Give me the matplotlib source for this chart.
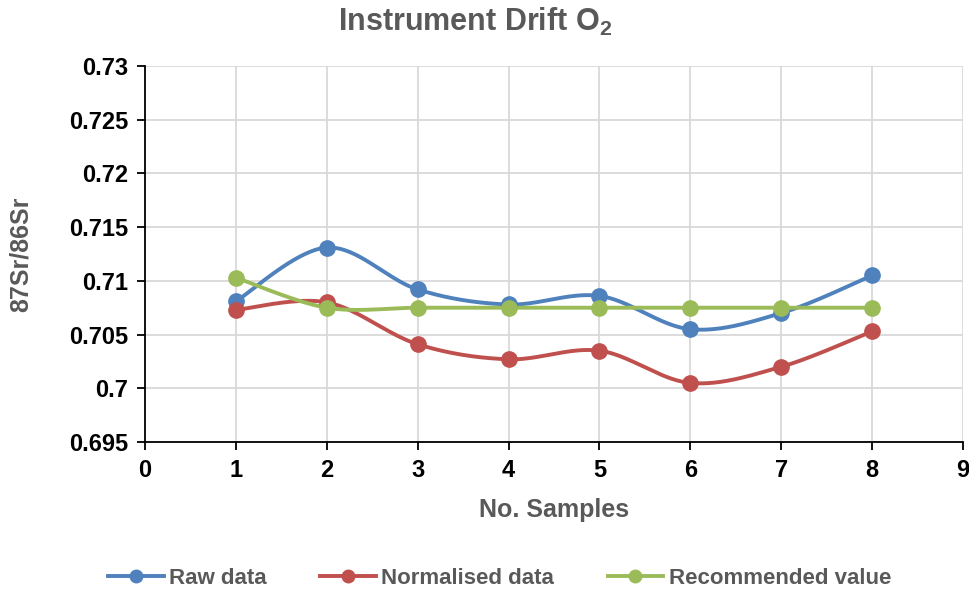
import numpy as np
import matplotlib
matplotlib.use("Agg")
import matplotlib.pyplot as plt

plt.rcParams['font.family'] = ['Liberation Sans', 'DejaVu Sans']
plt.rcParams['mathtext.fontset'] = 'custom'
plt.rcParams['mathtext.rm'] = 'Liberation Sans'
plt.rcParams['mathtext.bf'] = 'Liberation Sans:bold'

samples = [1, 2, 3, 4, 5, 6, 7, 8]
raw_data = [0.7081, 0.7131, 0.7092, 0.7078, 0.7086, 0.7055, 0.7070, 0.7105]
normalised_data = [0.7073, 0.7080, 0.7041, 0.7027, 0.7035, 0.7005, 0.7020, 0.7053]
recommended_value = [0.7103, 0.7075, 0.7075, 0.7075, 0.7075, 0.7075, 0.7075, 0.7075]

series = [
    ("Raw data", raw_data, "#4F81BD"),
    ("Normalised data", normalised_data, "#C0504D"),
    ("Recommended value", recommended_value, "#9BBB59"),
]

XMIN, XMAX = 0, 9
YMIN, YMAX = 0.695, 0.73


def smooth(xs, ys, ax_w, ax_h, n=40):
    """Cubic Bezier smoothing (Catmull-Rom style) computed in display proportions."""
    px = (np.asarray(xs, float) - XMIN) / (XMAX - XMIN) * ax_w
    py = (np.asarray(ys, float) - YMIN) / (YMAX - YMIN) * ax_h
    pts = np.column_stack([px, py])
    out = [pts[0]]
    m = len(pts)
    for i in range(m - 1):
        p0 = pts[i - 1] if i > 0 else pts[i]
        p1 = pts[i]
        p2 = pts[i + 1]
        p3 = pts[i + 2] if i + 2 < m else pts[i + 1]
        c1 = p1 + (p2 - p0) / 6.0
        c2 = p2 - (p3 - p1) / 6.0
        t = np.linspace(0, 1, n)[1:, None]
        seg = ((1 - t) ** 3) * p1 + 3 * ((1 - t) ** 2) * t * c1 + 3 * (1 - t) * t ** 2 * c2 + t ** 3 * p2
        out.extend(seg)
    out = np.array(out)
    sx = out[:, 0] / ax_w * (XMAX - XMIN) + XMIN
    sy = out[:, 1] / ax_h * (YMAX - YMIN) + YMIN
    return sx, sy


fig = plt.figure(figsize=(9.7, 5.94), dpi=100)
ax = fig.add_axes([145 / 970, 1 - 442 / 594, (963 - 145) / 970, (442 - 66) / 594])
ax_w, ax_h = 818, 376

handles = []
for name, vals, color in series:
    sx, sy = smooth(samples, vals, ax_w, ax_h)
    ax.plot(sx, sy, color=color, lw=2.8, solid_capstyle='round', zorder=3)
    ax.plot(samples, vals, 'o', color=color, ms=11, zorder=4)
    h, = ax.plot([], [], '-o', color=color, lw=2.8, ms=9, label=name)
    handles.append(h)

ax.set_xlim(XMIN, XMAX)
ax.set_ylim(YMIN, YMAX)
ax.set_xticks(range(0, 10))
ax.set_yticks([0.695, 0.70, 0.705, 0.71, 0.715, 0.72, 0.725, 0.73])
ax.set_yticklabels(["0.695", "0.7", "0.705", "0.71", "0.715", "0.72", "0.725", "0.73"])
ax.grid(True, color="#D9D9D9", lw=1.3)
ax.set_axisbelow(True)
for s in ['top', 'right']:
    ax.spines[s].set_visible(False)
for s in ['left', 'bottom']:
    ax.spines[s].set_color('black')
    ax.spines[s].set_linewidth(1.3)
ax.tick_params(axis='both', direction='out', length=6, width=1.3, color='black',
               labelsize=17, labelcolor='black', pad=6)
for lab in ax.get_xticklabels() + ax.get_yticklabels():
    lab.set_fontweight('bold')

ax.set_xlabel("No. Samples", fontsize=18, fontweight='bold', color='#595959', labelpad=12)
ax.set_ylabel("87Sr/86Sr", fontsize=18, fontweight='bold', color='#595959')
ax.yaxis.set_label_coords(-0.137, 0.5)
fig.text(0.49, 1 - 22 / 594, r"Instrument Drift O$_\mathbf{2}$", ha='center', va='center',
         fontsize=22, fontweight='bold', color='#595959')

leg = fig.legend(handles=handles, loc='center', bbox_to_anchor=(0.515, 1 - 578 / 594),
                 ncol=3, frameon=False, handlelength=2.5, columnspacing=2.4,
                 handletextpad=0.25,
                 prop={'size': 16, 'weight': 'bold'})
for t in leg.get_texts():
    t.set_color('#595959')

fig.savefig("out.png", dpi=100)
